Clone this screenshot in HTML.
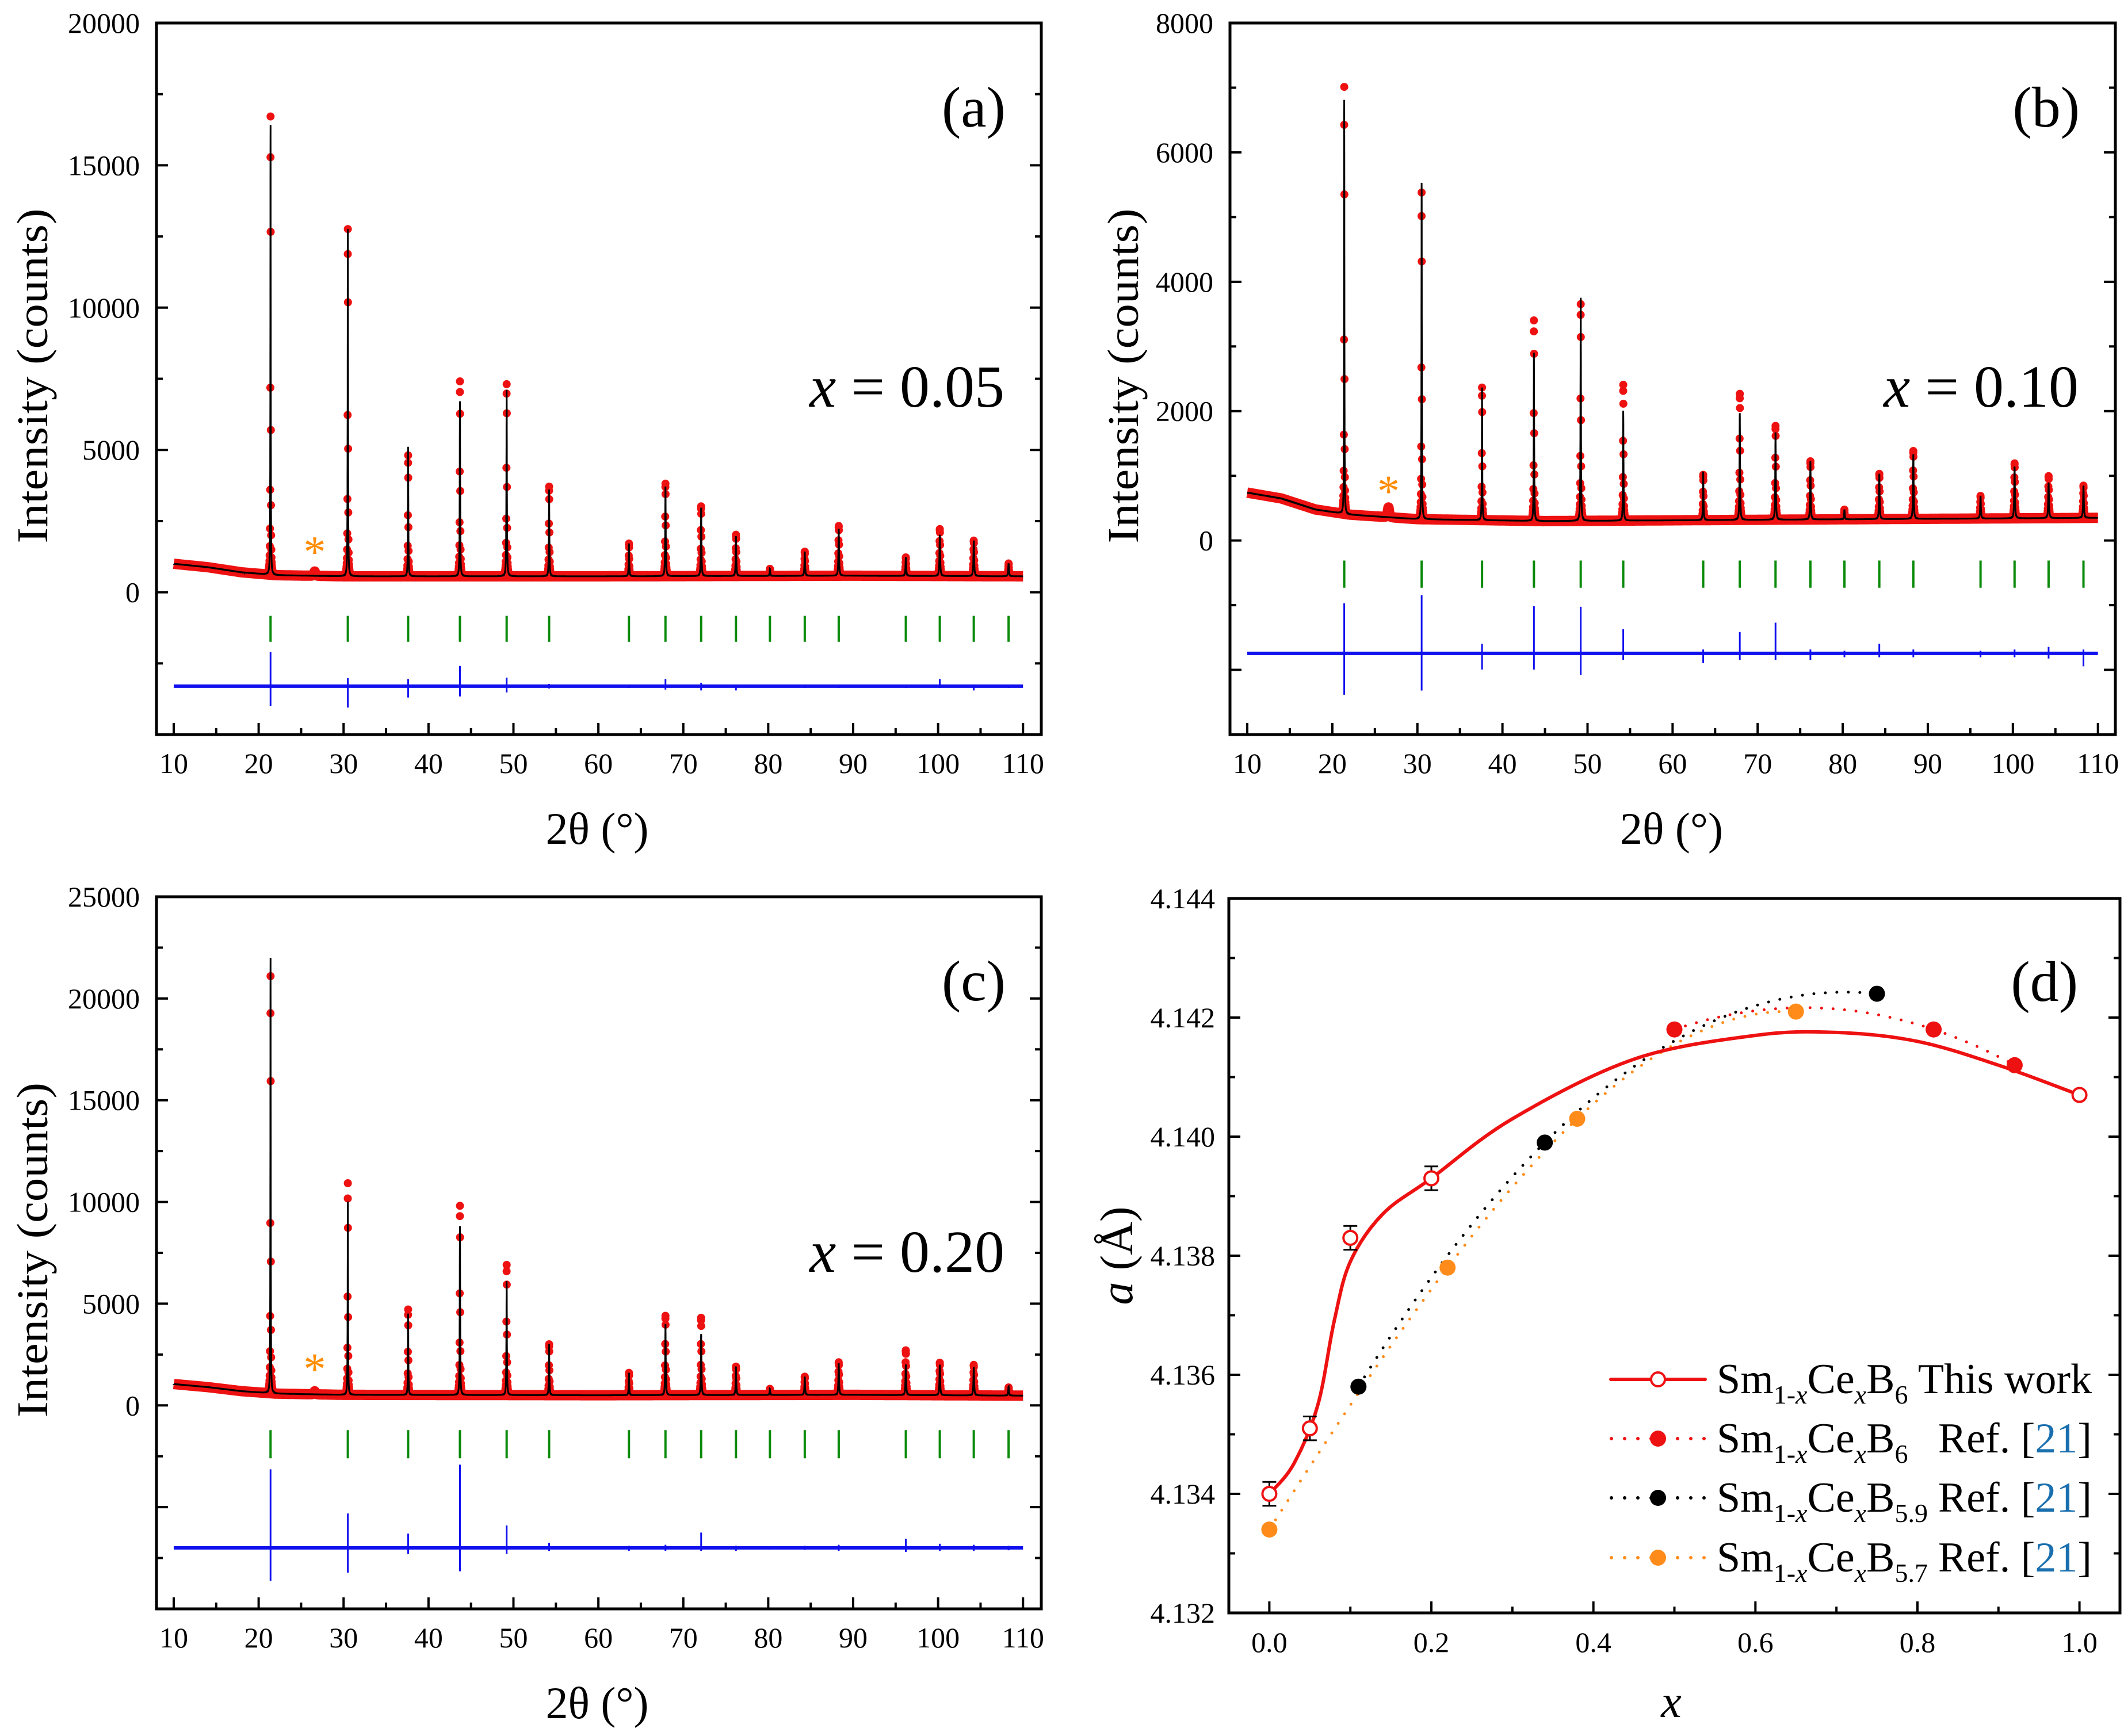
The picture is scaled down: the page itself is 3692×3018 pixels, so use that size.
<!DOCTYPE html>
<html><head><meta charset="utf-8"><style>
html,body{margin:0;padding:0;background:#fff}
svg{display:block;font-family:"Liberation Serif","DejaVu Serif",serif}
</style></head><body>
<svg id="fig" xmlns="http://www.w3.org/2000/svg" width="3692" height="3018" viewBox="0 0 3692 3018">
<rect width="3692" height="3018" fill="#fff"/>
</svg>
<script>
// ---------- XRD data ----------
const peakPos = [21.4,30.5,37.6,43.7,49.2,54.2,63.6,67.9,72.1,76.2,80.2,84.3,88.3,96.2,100.2,104.2,108.3];
// panel (a) x=0.05
const obsA  = [16100,12200,4250,6850,6750,3150,1150,3250,2450,1450,250,850,1750,650,1650,1250,450];
const calcA = [15800,12200,4550,6150,6550,3050,1150,3150,2400,1400,250,850,1650,650,1450,1250,450];
const bgXA = [10,14,18,22,30,60,90,110];
const bgYA = [1000,880,700,600,560,560,580,560];
const diffUpA   = [1200,280,250,710,300,80,60,250,120,60,40,60,60,50,250,60,40];
const diffDownA = [690,750,400,360,220,80,60,120,150,150,40,60,60,60,60,150,60];
const diffBaseA = -3300;
const tickTopA = -830, tickBotA = -1740;
// panel (b) x=0.10
const obsB  = [6600,5050,2050,3100,3350,2100,700,1950,1450,900,150,700,1050,350,850,650,500];
const calcB = [6400,5200,2050,2600,3450,1700,750,1650,1350,900,150,700,1000,350,800,550,500];
const bgXB = [10,14,18,22,30,45,70,110];
const bgYB = [740,650,480,400,330,300,320,350];
const diffUpB   = [775,900,150,730,720,375,60,330,475,60,40,150,60,40,60,100,60];
const diffDownB = [640,575,250,250,335,100,150,100,100,100,60,60,60,60,60,80,200];
const diffBaseB = -1745;
const tickTopB = -310, tickBotB = -730;
// panel (c) x=0.20
const obsC  = [20500,10400,4200,9300,6400,2500,1100,3900,3800,1400,300,900,1600,2200,1600,1500,400];
const calcC = [21400,9500,4000,8300,5600,2500,1100,3500,3000,1400,300,900,1550,1500,1500,1400,450];
const bgXC = [10,14,18,22,30,60,90,110];
const bgYC = [1050,900,700,580,520,500,520,480];
const diffUpC   = [3860,1690,700,4090,1100,250,100,150,750,100,80,100,150,450,200,150,100];
const diffDownC = [1620,1220,300,1150,300,150,150,150,150,150,80,100,150,200,150,150,120];
const diffBaseC = -7000;
const tickTopC = -1215, tickBotC = -2600;
const impurityPos = 26.6;

// ---------- lattice parameter data (d) ----------
const twX = [0, 0.05, 0.10, 0.20, 1.00];
const twY = [4.1340, 4.1351, 4.1383, 4.1393, 4.1407];
const twErr = [0.0002, 0.0002, 0.0002, 0.0002, 0.00005];
const fitX = [0, 0.03, 0.06, 0.08, 0.10, 0.14, 0.20, 0.30, 0.45, 0.60, 0.70, 0.80, 0.90, 1.00];
const fitY = [4.1340, 4.1345, 4.1355, 4.1369, 4.1379, 4.1387, 4.1393, 4.1403, 4.1413, 4.14170, 4.14175, 4.1416, 4.1412, 4.1407];
const refB6X = [0.50, 0.82, 0.92];
const refB6Y = [4.1418, 4.1418, 4.1412];
const refB59X = [0.11, 0.34, 0.75];
const refB59Y = [4.1358, 4.1399, 4.1424];
const refB57X = [0.00, 0.22, 0.38, 0.65];
const refB57Y = [4.1334, 4.1378, 4.1403, 4.1421];

const NS = "http://www.w3.org/2000/svg";
const svg = document.getElementById('fig');
function mk(tag, attrs, parent){
  const e = document.createElementNS(NS, tag);
  for (const k in attrs) e.setAttribute(k, attrs[k]);
  (parent||svg).appendChild(e);
  return e;
}
function interp(xs, ys, x){
  if (x <= xs[0]) return ys[0];
  for (let i=1;i<xs.length;i++){ if (x <= xs[i]) { const t=(x-xs[i-1])/(xs[i]-xs[i-1]); return ys[i-1]+t*(ys[i]-ys[i-1]); } }
  return ys[ys.length-1];
}
function lor(d, w){ return 1/(1+(d/w)*(d/w)); }
function pw(p){ return 0.022 + 0.0003*(p-20); }

function xrdPanel(cfg){
  const g = mk('g', {});
  
  
  const sx = v => cfg.x0 + (v - cfg.xmin)/(cfg.xmax - cfg.xmin)*(cfg.x1 - cfg.x0);
  const sy = v => cfg.y1 - (v - cfg.ymin)/(cfg.ymax - cfg.ymin)*(cfg.y1 - cfg.y0);
  const clip = 'clip-' + cfg.name;
  const cp = mk('clipPath', {id: clip}, g);
  mk('rect', {x: cfg.x0, y: cfg.y0, width: cfg.x1-cfg.x0, height: cfg.y1-cfg.y0}, cp);
  const plot = mk('g', {'clip-path': 'url(#'+clip+')'}, g);
  function model(x, amps){
    let y = interp(cfg.bgX, cfg.bgY, x);
    for (let i=0;i<peakPos.length;i++){ const d = x-peakPos[i]; if (Math.abs(d) < 3) y += amps[i]*lor(d, pw(peakPos[i])); }
    return y;
  }
  let d = '';
  for (let x=10; x<=110.001; x+=0.05){
    let y = interp(cfg.bgX, cfg.bgY, x) + 150*lor(x-impurityPos, 0.08);
    d += (d?'L':'M') + sx(x).toFixed(1) + ' ' + sy(y).toFixed(1);
  }
  const band = mk('path', {d: d, fill: 'none', stroke: '#ee1111', 'stroke-width': 18, 'stroke-linejoin': 'round'}, plot);
  
  
  for (let x=10.013; x<=110.001; x+=0.02){
    const y = model(x, cfg.obs);
    if (y - interp(cfg.bgX, cfg.bgY, x) > 60){
      const c = mk('circle', {cx: sx(x).toFixed(1), cy: sy(y).toFixed(1), r: 7, fill: '#ee1111'}, plot);
      
      
    }
  }
  for (let i=0;i<peakPos.length;i++){
    const c = mk('circle', {cx: sx(peakPos[i]).toFixed(1), cy: sy(model(peakPos[i], cfg.obs)).toFixed(1), r: 7, fill: '#ee1111'}, plot);
    
    
  }
  d = '';
  for (let x=10; x<=110.001; x+=0.004){
    const y = model(x, cfg.calc);
    d += (d?'L':'M') + sx(x).toFixed(1) + ' ' + sy(y).toFixed(1);
  }
  const calc = mk('path', {d: d, fill: 'none', stroke: '#000', 'stroke-width': 3}, plot);
  
  
  for (let i=0;i<peakPos.length;i++){
    const t = mk('line', {x1: sx(peakPos[i]), x2: sx(peakPos[i]), y1: sy(cfg.tickTop), y2: sy(cfg.tickBot), stroke: '#0a8a0a', 'stroke-width': 4}, plot);
    
    
  }
  const base = mk('line', {x1: sx(10), x2: sx(110), y1: sy(cfg.diffBase), y2: sy(cfg.diffBase), stroke: '#1010ee', 'stroke-width': 6}, plot);
  
  
  for (let i=0;i<peakPos.length;i++){
    const s = mk('line', {x1: sx(peakPos[i]), x2: sx(peakPos[i]), y1: sy(cfg.diffBase + cfg.up[i]), y2: sy(cfg.diffBase - cfg.down[i]), stroke: '#1010ee', 'stroke-width': 3}, plot);
    
    
  }
  const ast = mk('text', {x: sx(impurityPos), y: sy(cfg.astY)+28, 'font-size': 78, fill: '#ff8c00', 'text-anchor': 'middle'}, g);
  ast.textContent = '*';
  
  
  const fr = mk('rect', {x: cfg.x0, y: cfg.y0, width: cfg.x1-cfg.x0, height: cfg.y1-cfg.y0, fill: 'none', stroke: '#000', 'stroke-width': 5}, g);
  
  
  for (let v=10; v<=110; v+=5){
    const major = v%10===0, L = major?20:11;
    mk('line', {x1: sx(v), x2: sx(v), y1: cfg.y1, y2: cfg.y1-L, stroke:'#000','stroke-width':4}, g);
    if (major){
      const t = mk('text', {x: sx(v), y: cfg.y1+67, 'font-size': 50, 'text-anchor':'middle'}, g);
      t.textContent = v;
      
      
    }
  }
  for (let v=cfg.ymin+cfg.minor; v<cfg.ymax+1; v+=cfg.minor){
    const major = Math.abs(v % cfg.major) < 1e-6, L = major?20:11;
    mk('line', {x1: cfg.x0, x2: cfg.x0+L, y1: sy(v), y2: sy(v), stroke:'#000','stroke-width':4}, g);
    mk('line', {x1: cfg.x1, x2: cfg.x1-L, y1: sy(v), y2: sy(v), stroke:'#000','stroke-width':4}, g);
    if (major && v >= 0){
      const t = mk('text', {x: cfg.x0-29, y: sy(v)+17, 'font-size': 50, 'text-anchor':'end'}, g);
      t.textContent = v;
      
      
    }
  }
  const yt = mk('text', {x: 0, y: 0, 'font-size': 76, 'text-anchor':'middle', transform: 'translate('+cfg.ytx+','+((cfg.y0+cfg.y1)/2-5)+') rotate(-90)', textLength: 582, lengthAdjust: 'spacingAndGlyphs'}, g);
  yt.textContent = 'Intensity (counts)';
  
  
  const xt = mk('text', {x: (cfg.x0+cfg.x1)/2 + cfg.xtdx, y: cfg.y1+190, 'font-size': 78, 'text-anchor':'middle'}, g);
  xt.textContent = '2θ (°)';
  
  
  const pl = mk('text', {x: cfg.x1-62, y: cfg.y0+180, 'font-size': 100, 'text-anchor':'end'}, g);
  pl.textContent = cfg.label;
  
  
  const cl = mk('text', {x: cfg.x1-64, y: cfg.y0+cfg.compDy, 'font-size': 104, 'text-anchor':'end'}, g);
  cl.innerHTML = '<tspan font-style="italic">x</tspan> = ' + cfg.comp;
  
  
}

xrdPanel({name:'panel-a', x0:272, x1:1810, y0:40, y1:1277, xmin:7.97, xmax:112.15, ymin:-5000, ymax:20000, major:5000, minor:2500,
  obs:obsA, calc:calcA, bgX:bgXA, bgY:bgYA, up:diffUpA, down:diffDownA, diffBase:diffBaseA, tickTop:tickTopA, tickBot:tickBotA,
  astY:1460, ytx:82, xtdx:-3, label:'(a)', comp:'0.05', compDy:667});
xrdPanel({name:'panel-b', x0:2138, x1:3677, y0:40, y1:1277, xmin:7.97, xmax:112.05, ymin:-3000, ymax:8000, major:2000, minor:1000,
  obs:obsB, calc:calcB, bgX:bgXB, bgY:bgYB, up:diffUpB, down:diffDownB, diffBase:diffBaseB, tickTop:tickTopB, tickBot:tickBotB,
  astY:780, ytx:1978, xtdx:-2, label:'(b)', comp:'0.10', compDy:667});
xrdPanel({name:'panel-c', x0:272, x1:1810, y0:1559, y1:2797, xmin:7.97, xmax:112.15, ymin:-10000, ymax:25000, major:5000, minor:2500,
  obs:obsC, calc:calcC, bgX:bgXC, bgY:bgYC, up:diffUpC, down:diffDownC, diffBase:diffBaseC, tickTop:tickTopC, tickBot:tickBotC,
  astY:1840, ytx:82, xtdx:-3, label:'(c)', comp:'0.20', compDy:652});

// ---------- panel (d) ----------
(function(){
  const x0=2136, x1=3685, y0=1562, y1=2804, xmin=-0.05, xmax=1.05, ymin=4.132, ymax=4.144;
  const sx = v => x0 + (v-xmin)/(xmax-xmin)*(x1-x0);
  const sy = v => y1 - (v-ymin)/(ymax-ymin)*(y1-y0);
  const g = mk('g', {});
  
  
  function lagrange(xs, ys, x){
    let s=0; for (let i=0;i<xs.length;i++){ let p=ys[i]; for (let j=0;j<xs.length;j++) if (j!==i) p*=(x-xs[j])/(xs[i]-xs[j]); s+=p; } return s;
  }
  function catmull(xs, ys){
    let d = 'M'+sx(xs[0]).toFixed(1)+' '+sy(ys[0]).toFixed(1);
    for (let i=0;i<xs.length-1;i++){
      const p0=[sx(xs[Math.max(i-1,0)]),sy(ys[Math.max(i-1,0)])], p1=[sx(xs[i]),sy(ys[i])], p2=[sx(xs[i+1]),sy(ys[i+1])], p3=[sx(xs[Math.min(i+2,xs.length-1)]),sy(ys[Math.min(i+2,xs.length-1)])];
      const c1=[p1[0]+(p2[0]-p0[0])/6, p1[1]+(p2[1]-p0[1])/6], c2=[p2[0]-(p3[0]-p1[0])/6, p2[1]-(p3[1]-p1[1])/6];
      d += 'C'+c1[0].toFixed(1)+' '+c1[1].toFixed(1)+' '+c2[0].toFixed(1)+' '+c2[1].toFixed(1)+' '+p2[0].toFixed(1)+' '+p2[1].toFixed(1);
    }
    return d;
  }
  function lagPath(xs, ys){
    let d=''; const a=xs[0], b=xs[xs.length-1];
    for (let k=0;k<=100;k++){ const x=a+(b-a)*k/100; d += (d?'L':'M')+sx(x).toFixed(1)+' '+sy(lagrange(xs,ys,x)).toFixed(1); }
    return d;
  }
  const dot = {fill:'none','stroke-width':5,'stroke-linecap':'round','stroke-dasharray':'0 20'};
  let p;
  p = mk('path', Object.assign({d: lagPath(refB57X, refB57Y), stroke:'#ff8c1a'}, dot), g);
  
  
  p = mk('path', Object.assign({d: lagPath(refB59X, refB59Y), stroke:'#000'}, dot), g);
  
  
  p = mk('path', Object.assign({d: lagPath(refB6X, refB6Y), stroke:'#ee1111'}, dot), g);
  
  
  p = mk('path', {d: catmull(fitX, fitY), fill:'none', stroke:'#ee1111', 'stroke-width':6}, g);
  
  
  function filled(xs, ys, col, name){
    for (let i=0;i<xs.length;i++){
      const c = mk('circle', {cx: sx(xs[i]), cy: sy(ys[i]), r: 14, fill: col}, g);
      
      
    }
  }
  filled(refB57X, refB57Y, '#ff8c1a', 'ref-b57-point');
  filled(refB59X, refB59Y, '#000', 'ref-b59-point');
  filled(refB6X, refB6Y, '#ee1111', 'ref-b6-point');
  for (let i=0;i<twX.length;i++){
    const cx = sx(twX[i]), ya = sy(twY[i]+twErr[i]), yb = sy(twY[i]-twErr[i]);
    const eb = mk('path', {d: 'M'+cx+' '+ya+'V'+yb+'M'+(cx-12)+' '+ya+'H'+(cx+12)+'M'+(cx-12)+' '+yb+'H'+(cx+12), stroke:'#000','stroke-width':3, fill:'none'}, g);
    
    
    const c = mk('circle', {cx: cx, cy: sy(twY[i]), r: 12, fill:'#fff', stroke:'#ee1111', 'stroke-width':4}, g);
    
    
  }
  const fr = mk('rect', {x:x0, y:y0, width:x1-x0, height:y1-y0, fill:'none', stroke:'#000', 'stroke-width':5}, g);
  
  
  for (let k=0;k<=10;k++){
    const v=k/10, major=k%2===0, L=major?20:11;
    mk('line', {x1:sx(v), x2:sx(v), y1:y1, y2:y1-L, stroke:'#000','stroke-width':4}, g);
    if (major){
      const t = mk('text', {x: sx(v), y: 2872, 'font-size': 50, 'text-anchor':'middle'}, g);
      t.textContent = v.toFixed(1);
      
      
    }
  }
  for (let k=1;k<=12;k++){
    const v=4.132+k*0.001, major=k%2===0, L=major?20:11;
    mk('line', {x1:x0, x2:x0+L, y1:sy(v), y2:sy(v), stroke:'#000','stroke-width':4}, g);
    mk('line', {x1:x1, x2:x1-L, y1:sy(v), y2:sy(v), stroke:'#000','stroke-width':4}, g);
  }
  for (let k=0;k<=6;k++){
    const v=4.132+k*0.002;
    const t = mk('text', {x: 2112, y: sy(v)+17, 'font-size': 50, 'text-anchor':'end'}, g);
    t.textContent = v.toFixed(3);
    
    
  }
  const yt = mk('text', {x:0, y:0, 'font-size': 80, 'text-anchor':'middle', transform:'translate(1968,2183) rotate(-90)'}, g);
  yt.innerHTML = '<tspan font-style="italic">a</tspan> (Å)';
  
  
  const xt = mk('text', {x: 2905, y: 2985, 'font-size': 80, 'font-style':'italic', 'text-anchor':'middle'}, g);
  xt.textContent = 'x';
  
  
  const pl = mk('text', {x: 3612, y: 1740, 'font-size': 100, 'text-anchor':'end'}, g);
  pl.textContent = '(d)';
  
  
  const rows = [
    {y:2422, col:'#ee1111', solid:true, sub:'6', ref:false},
    {y:2525, col:'#ee1111', solid:false, sub:'6', ref:true},
    {y:2628, col:'#000', solid:false, sub:'5.9', ref:true},
    {y:2732, col:'#ff8c1a', solid:false, sub:'5.7', ref:true}
  ];
  rows.forEach(r => {
    const lg = mk('g', {}, g);
    
    
    const ly = r.y - 24;
    if (r.solid){
      mk('line', {x1:2800, x2:2964, y1:ly, y2:ly, stroke:r.col, 'stroke-width':6, 'stroke-linecap':'round'}, lg);
      mk('circle', {cx:2882, cy:ly, r:12, fill:'#fff', stroke:r.col, 'stroke-width':4}, lg);
    } else {
      mk('line', {x1:2801, x2:2964, y1:ly, y2:ly, stroke:r.col, 'stroke-width':6, 'stroke-linecap':'round', 'stroke-dasharray':'0 23'}, lg);
      mk('circle', {cx:2882, cy:ly, r:14, fill:r.col}, lg);
    }
    const t = mk('text', {x:2984, y:r.y, 'font-size':74}, lg);
    t.innerHTML = 'Sm<tspan font-size="46" dy="18">1-</tspan><tspan font-size="46" font-style="italic">x</tspan><tspan dy="-18">Ce</tspan><tspan font-size="46" font-style="italic" dy="18">x</tspan><tspan dy="-18">B</tspan><tspan font-size="46" dy="18">'+r.sub+'</tspan>';
    const t2 = mk('text', {x:3636, y:r.y, 'font-size':74, 'text-anchor':'end'}, lg);
    t2.innerHTML = r.ref ? 'Ref. [<tspan fill="#1a6fae">21</tspan>]' : 'This work';
  });
})();
</script>
</body></html>
